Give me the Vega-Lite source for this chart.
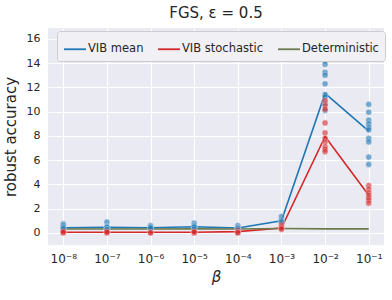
{
  "$schema": "https://vega.github.io/schema/vega-lite/v6.json",
  "width": 336,
  "height": 217,
  "autosize": {"type": "none"},
  "padding": {"left": 48, "top": 28, "right": 8, "bottom": 55},
  "background": "white",
  "title": {"text": "FGS, ε = 0.5", "fontSize": 15, "fontWeight": "normal", "font": "DejaVu Sans", "color": "#262626", "offset": 7},
  "config": {
    "view": {"fill": "#EAEAF2", "stroke": null},
    "axis": {"domain": false, "ticks": false, "gridColor": "white", "gridWidth": 1, "labelColor": "#262626", "labelFontSize": 11, "labelFont": "DejaVu Sans", "titleFont": "DejaVu Sans", "titleFontSize": 15, "titleFontWeight": "normal", "titleColor": "#262626"},
    "legend": {"labelFont": "DejaVu Sans"}
  },
  "datasets": {
    "lines": [
      {"beta": 1e-8, "method": "VIB mean", "acc": 0.42},
      {"beta": 1e-7, "method": "VIB mean", "acc": 0.45},
      {"beta": 1e-6, "method": "VIB mean", "acc": 0.42},
      {"beta": 1e-5, "method": "VIB mean", "acc": 0.5},
      {"beta": 1e-4, "method": "VIB mean", "acc": 0.4},
      {"beta": 1e-3, "method": "VIB mean", "acc": 1.0},
      {"beta": 1e-2, "method": "VIB mean", "acc": 11.5},
      {"beta": 1e-1, "method": "VIB mean", "acc": 8.4},
      {"beta": 1e-8, "method": "VIB stochastic", "acc": 0.05},
      {"beta": 1e-7, "method": "VIB stochastic", "acc": 0.05},
      {"beta": 1e-6, "method": "VIB stochastic", "acc": 0.05},
      {"beta": 1e-5, "method": "VIB stochastic", "acc": 0.05},
      {"beta": 1e-4, "method": "VIB stochastic", "acc": 0.1},
      {"beta": 1e-3, "method": "VIB stochastic", "acc": 0.4},
      {"beta": 1e-2, "method": "VIB stochastic", "acc": 7.95},
      {"beta": 1e-1, "method": "VIB stochastic", "acc": 3.1},
      {"beta": 1e-8, "method": "Deterministic", "acc": 0.32},
      {"beta": 1e-7, "method": "Deterministic", "acc": 0.32},
      {"beta": 1e-6, "method": "Deterministic", "acc": 0.32},
      {"beta": 1e-5, "method": "Deterministic", "acc": 0.33},
      {"beta": 1e-4, "method": "Deterministic", "acc": 0.32},
      {"beta": 1e-3, "method": "Deterministic", "acc": 0.36},
      {"beta": 1e-2, "method": "Deterministic", "acc": 0.33},
      {"beta": 1e-1, "method": "Deterministic", "acc": 0.33}
    ],
    "points": [
      {"beta": 1e-8, "method": "VIB mean", "acc": 0.74},
      {"beta": 1e-8, "method": "VIB mean", "acc": 0.6},
      {"beta": 1e-8, "method": "VIB mean", "acc": 0.47},
      {"beta": 1e-8, "method": "VIB mean", "acc": 0.4},
      {"beta": 1e-8, "method": "VIB mean", "acc": 0.3},
      {"beta": 1e-8, "method": "VIB stochastic", "acc": 0.05},
      {"beta": 1e-8, "method": "VIB stochastic", "acc": 0.0},
      {"beta": 1e-8, "method": "VIB stochastic", "acc": 0.1},
      {"beta": 1e-7, "method": "VIB mean", "acc": 0.9},
      {"beta": 1e-7, "method": "VIB mean", "acc": 0.5},
      {"beta": 1e-7, "method": "VIB mean", "acc": 0.47},
      {"beta": 1e-7, "method": "VIB mean", "acc": 0.3},
      {"beta": 1e-7, "method": "VIB mean", "acc": 0.25},
      {"beta": 1e-7, "method": "VIB stochastic", "acc": 0.05},
      {"beta": 1e-7, "method": "VIB stochastic", "acc": 0.0},
      {"beta": 1e-7, "method": "VIB stochastic", "acc": 0.08},
      {"beta": 1e-6, "method": "VIB mean", "acc": 0.6},
      {"beta": 1e-6, "method": "VIB mean", "acc": 0.5},
      {"beta": 1e-6, "method": "VIB mean", "acc": 0.44},
      {"beta": 1e-6, "method": "VIB mean", "acc": 0.35},
      {"beta": 1e-6, "method": "VIB stochastic", "acc": 0.05},
      {"beta": 1e-6, "method": "VIB stochastic", "acc": 0.0},
      {"beta": 1e-5, "method": "VIB mean", "acc": 0.8},
      {"beta": 1e-5, "method": "VIB mean", "acc": 0.6},
      {"beta": 1e-5, "method": "VIB mean", "acc": 0.5},
      {"beta": 1e-5, "method": "VIB mean", "acc": 0.47},
      {"beta": 1e-5, "method": "VIB mean", "acc": 0.3},
      {"beta": 1e-5, "method": "VIB stochastic", "acc": 0.05},
      {"beta": 1e-5, "method": "VIB stochastic", "acc": 0.0},
      {"beta": 1e-5, "method": "VIB stochastic", "acc": 0.1},
      {"beta": 1e-4, "method": "VIB mean", "acc": 0.6},
      {"beta": 1e-4, "method": "VIB mean", "acc": 0.45},
      {"beta": 1e-4, "method": "VIB mean", "acc": 0.39},
      {"beta": 1e-4, "method": "VIB mean", "acc": 0.3},
      {"beta": 1e-4, "method": "VIB stochastic", "acc": 0.19},
      {"beta": 1e-4, "method": "VIB stochastic", "acc": 0.05},
      {"beta": 1e-4, "method": "VIB stochastic", "acc": 0.0},
      {"beta": 1e-3, "method": "VIB mean", "acc": 1.35},
      {"beta": 1e-3, "method": "VIB mean", "acc": 1.07},
      {"beta": 1e-3, "method": "VIB mean", "acc": 0.95},
      {"beta": 1e-3, "method": "VIB mean", "acc": 0.85},
      {"beta": 1e-3, "method": "VIB stochastic", "acc": 0.66},
      {"beta": 1e-3, "method": "VIB stochastic", "acc": 0.5},
      {"beta": 1e-3, "method": "VIB stochastic", "acc": 0.39},
      {"beta": 1e-3, "method": "VIB stochastic", "acc": 0.3},
      {"beta": 1e-2, "method": "VIB mean", "acc": 14.2},
      {"beta": 1e-2, "method": "VIB mean", "acc": 13.9},
      {"beta": 1e-2, "method": "VIB mean", "acc": 13.25},
      {"beta": 1e-2, "method": "VIB mean", "acc": 13.0},
      {"beta": 1e-2, "method": "VIB mean", "acc": 12.3},
      {"beta": 1e-2, "method": "VIB mean", "acc": 11.4},
      {"beta": 1e-2, "method": "VIB mean", "acc": 11.2},
      {"beta": 1e-2, "method": "VIB mean", "acc": 10.65},
      {"beta": 1e-2, "method": "VIB mean", "acc": 10.1},
      {"beta": 1e-2, "method": "VIB stochastic", "acc": 10.9},
      {"beta": 1e-2, "method": "VIB stochastic", "acc": 10.5},
      {"beta": 1e-2, "method": "VIB stochastic", "acc": 10.2},
      {"beta": 1e-2, "method": "VIB stochastic", "acc": 9.07},
      {"beta": 1e-2, "method": "VIB stochastic", "acc": 8.25},
      {"beta": 1e-2, "method": "VIB stochastic", "acc": 7.8},
      {"beta": 1e-2, "method": "VIB stochastic", "acc": 7.5},
      {"beta": 1e-2, "method": "VIB stochastic", "acc": 7.1},
      {"beta": 1e-2, "method": "VIB stochastic", "acc": 6.9},
      {"beta": 1e-2, "method": "VIB stochastic", "acc": 6.7},
      {"beta": 1e-1, "method": "VIB mean", "acc": 10.6},
      {"beta": 1e-1, "method": "VIB mean", "acc": 9.95},
      {"beta": 1e-1, "method": "VIB mean", "acc": 9.3},
      {"beta": 1e-1, "method": "VIB mean", "acc": 9.0},
      {"beta": 1e-1, "method": "VIB mean", "acc": 8.7},
      {"beta": 1e-1, "method": "VIB mean", "acc": 8.5},
      {"beta": 1e-1, "method": "VIB mean", "acc": 7.8},
      {"beta": 1e-1, "method": "VIB mean", "acc": 7.5},
      {"beta": 1e-1, "method": "VIB mean", "acc": 6.25},
      {"beta": 1e-1, "method": "VIB mean", "acc": 5.65},
      {"beta": 1e-1, "method": "VIB stochastic", "acc": 3.9},
      {"beta": 1e-1, "method": "VIB stochastic", "acc": 3.6},
      {"beta": 1e-1, "method": "VIB stochastic", "acc": 3.3},
      {"beta": 1e-1, "method": "VIB stochastic", "acc": 3.1},
      {"beta": 1e-1, "method": "VIB stochastic", "acc": 2.9},
      {"beta": 1e-1, "method": "VIB stochastic", "acc": 2.7},
      {"beta": 1e-1, "method": "VIB stochastic", "acc": 2.45}
    ]
  },
  "encoding": {
    "x": {
      "field": "beta", "type": "quantitative",
      "scale": {"type": "log", "domain": [4.4668e-9, 0.22387], "nice": false},
      "axis": {"values": [1e-8, 1e-7, 1e-6, 1e-5, 1e-4, 1e-3, 1e-2, 1e-1], "labelPadding": 8, "labelFontSize": 12, "title": "β", "titleFontStyle": "italic", "titlePadding": 5,
        "labelExpr": "'10⁻' + ['⁰','¹','²','³','⁴','⁵','⁶','⁷','⁸','⁹'][round(-log(datum.value)/LN10)]"}
    },
    "y": {
      "field": "acc", "type": "quantitative",
      "scale": {"domain": [-1, 16.9], "nice": false, "zero": false},
      "axis": {"values": [0, 2, 4, 6, 8, 10, 12, 14, 16], "labelPadding": 8, "title": "robust accuracy", "titlePadding": 8}
    },
    "color": {
      "field": "method", "type": "nominal",
      "scale": {"domain": ["VIB mean", "VIB stochastic", "Deterministic"], "range": ["#1f77b4", "#d62728", "#6b7b4c"]}
    }
  },
  "layer": [
    {
      "data": {"name": "lines"},
      "mark": {"type": "line", "strokeWidth": 1.6},
      "encoding": {
        "color": {
          "field": "method", "type": "nominal",
          "legend": {"title": null, "orient": "none", "legendX": 9, "legendY": 3, "direction": "horizontal", "columns": 3,
            "symbolType": "stroke", "symbolSize": 484, "symbolStrokeWidth": 1.8, "labelFontSize": 11.5, "labelColor": "#262626",
            "fillColor": "#F0F0F5", "strokeColor": "#CCCCCC", "cornerRadius": 3, "padding": 6, "columnPadding": 10, "labelOffset": 1}
        }
      }
    },
    {
      "data": {"name": "points"},
      "mark": {"type": "point", "filled": true, "size": 38, "opacity": 0.6, "stroke": "white", "strokeWidth": 0.5},
      "encoding": {
        "color": {"field": "method", "type": "nominal", "legend": null}
      }
    }
  ]
}
